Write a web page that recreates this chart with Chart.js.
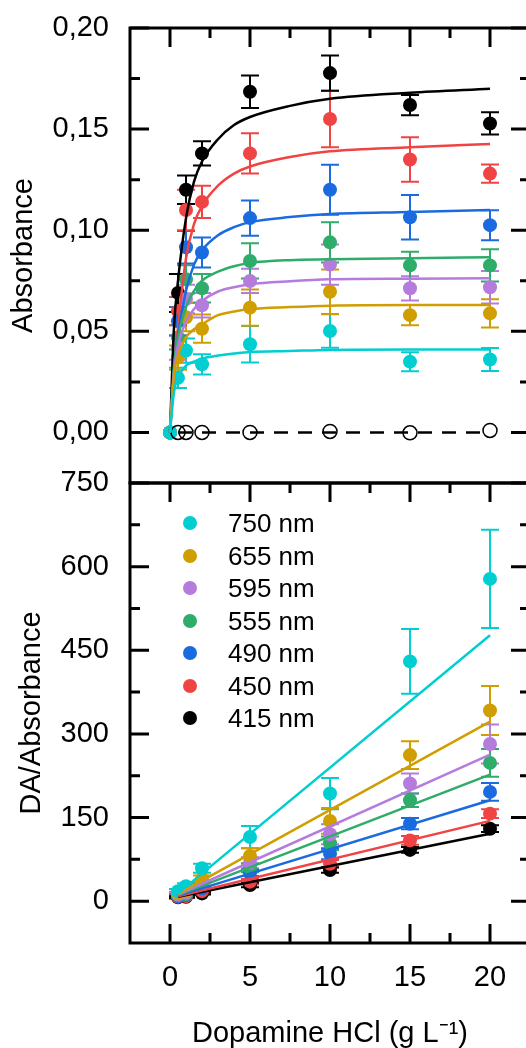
<!DOCTYPE html>
<html>
<head>
<meta charset="utf-8">
<script src="https://cdn.jsdelivr.net/npm/chart.js@4/dist/chart.umd.min.js"></script>
<style>
  html, body { margin: 0; padding: 0; background: #fff; overflow: hidden; width: 526px; height: 1048px; }
  #wrap { position: relative; width: 526px; height: 1048px; overflow: hidden; }
  canvas { position: absolute; left: 0; }
  #absChart { top: 0; }
  #ratioChart { top: 455px; }
  #legend { position: absolute; left: 0; top: 0; font: 26px "Liberation Sans", Arial, sans-serif; color: #000; }
  .row { position: absolute; left: 0; height: 26px; line-height: 26px; white-space: nowrap; }
  .dot { position: absolute; left: 183px; top: 6px; width: 14px; height: 14px; border-radius: 50%; }
  .txt { position: absolute; left: 228px; top: 0; }
</style>
</head>
<body>
<div id="wrap">
  <canvas id="absChart" width="546" height="503"></canvas>
  <canvas id="ratioChart" width="546" height="593"></canvas>
  <div id="legend"></div>
</div>
<script>
// --- donnees ---
const waveLabels = ['750 nm', '655 nm', '595 nm', '555 nm', '490 nm', '450 nm', '415 nm'];
const waveColors = ['#00CED1', '#D09E00', '#B57BDD', '#2EAC6A', '#1A6BE0', '#F04444', '#000000'];

// axes
const xMajor = [0, 5, 10, 15, 20];
const xMinor = [2.5, 7.5, 12.5, 17.5];
const absTicks = [0, 0.05, 0.10, 0.15, 0.20];
const absMinor = [0.025, 0.075, 0.125, 0.175];
const ratioTicks = [0, 150, 300, 450, 600, 750];
const ratioMinor = [75, 225, 375, 525, 675];

// panneau du haut : absorbance
const absX = [0, 0.5, 1, 2, 5, 10, 15, 20];
const abs750 = [0, 0.027, 0.0405, 0.0337, 0.0436, 0.0502, 0.0350, 0.0361];
const abs655 = [0, 0.037, 0.057, 0.0513, 0.0617, 0.0696, 0.0580, 0.0589];
const abs595 = [0, 0.042, 0.066, 0.0629, 0.0749, 0.0830, 0.0713, 0.0718];
const abs555 = [0, 0.047, 0.0757, 0.0713, 0.0848, 0.0940, 0.0826, 0.0826];
const abs490 = [0, 0.055, 0.0916, 0.0890, 0.1060, 0.1200, 0.1064, 0.1025];
const abs450 = [0, 0.060, 0.1100, 0.1140, 0.1380, 0.1550, 0.1350, 0.1280];
const abs415 = [0, 0.069, 0.1200, 0.1380, 0.1685, 0.1777, 0.1619, 0.1528];
const abs750Err = [0, 0.005, 0.006, 0.005, 0.009, 0.0083, 0.0047, 0.0057];
const abs655Err = [0, 0.006, 0.007, 0.007, 0.009, 0.011, 0.005, 0.007];
const abs595Err = [0, 0.006, 0.007, 0.006, 0.006, 0.010, 0.006, 0.008];
const abs555Err = [0, 0.006, 0.007, 0.007, 0.0087, 0.010, 0.0067, 0.008];
const abs490Err = [0, 0.007, 0.008, 0.0074, 0.0087, 0.0124, 0.011, 0.0074];
const abs450Err = [0, 0.007, 0.010, 0.008, 0.010, 0.014, 0.011, 0.0045];
const abs415Err = [0, 0.0094, 0.007, 0.006, 0.008, 0.0087, 0.005, 0.0055];

// courbes d'ajustement
const fitX = [0, 0.25, 0.5, 1, 1.5, 2, 3, 4, 5, 7.5, 10, 15, 20];
const fit750 = [0, 0.020, 0.027, 0.033, 0.035, 0.0365, 0.038, 0.039, 0.0398, 0.0403, 0.0408, 0.041, 0.041];
const fit655 = [0, 0.028, 0.038, 0.047, 0.051, 0.0535, 0.058, 0.0598, 0.061, 0.062, 0.0627, 0.063, 0.063];
const fit595 = [0, 0.030, 0.043, 0.055, 0.061, 0.065, 0.0697, 0.0718, 0.0733, 0.0748, 0.0757, 0.076, 0.0762];
const fit555 = [0, 0.033, 0.047, 0.062, 0.070, 0.075, 0.0795, 0.0822, 0.0838, 0.0852, 0.0856, 0.0862, 0.0866];
const fit490 = [0, 0.030, 0.048, 0.070, 0.083, 0.090, 0.0975, 0.1015, 0.104, 0.1065, 0.108, 0.109, 0.110];
const fit450 = [0, 0.030, 0.052, 0.086, 0.103, 0.112, 0.122, 0.128, 0.1315, 0.1362, 0.139, 0.141, 0.1426];
const fit415 = [0, 0.052, 0.075, 0.106, 0.124, 0.134, 0.145, 0.152, 0.156, 0.1615, 0.165, 0.168, 0.170];

// temoin (cercles vides + tirets)
const ctrlX = [0.5, 1, 2, 5, 10, 15, 20];
const ctrlY = [0, 0, 0, 0, 0.0005, -0.0002, 0.001];
const ctrlLineX = [0.5, 20];
const ctrlLineY = [0, 0];

// panneau du bas : DA/Absorbance
const ratioX = [0.5, 1, 2, 5, 10, 15, 20];
const ratio750 = [18, 27, 59, 115, 193, 430, 578];
const ratio655 = [14, 18, 40, 81, 144, 262, 342];
const ratio595 = [12, 15, 32, 69, 120, 211, 282];
const ratio555 = [11, 13, 28, 60, 104, 181, 248];
const ratio490 = [9, 11, 23, 51, 85, 139, 196];
const ratio450 = [8, 9, 18, 35, 67, 109, 157];
const ratio415 = [7, 8, 14, 29, 56, 92, 130];
const ratio750Err = [4, 5, 8, 20, 28, 58, 88];
const ratio655Err = [3, 4, 6, 14, 23, 25, 44];
const ratio595Err = [3, 3, 5, 10, 18, 18, 35];
const ratio555Err = [2, 3, 4, 8, 12, 12, 25];
const ratio490Err = [2, 2, 4, 6, 10, 10, 16];
const ratio450Err = [2, 2, 3, 5, 7, 8, 8];
const ratio415Err = [2, 2, 2, 4, 5, 5, 6];

// droites de regression
const lineX = [0.5, 20];
const line750 = [14, 477];
const line655 = [13, 322];
const line595 = [12, 263];
const line555 = [11, 227];
const line490 = [10, 181];
const line450 = [9, 144];
const line415 = [8, 121];

const series = [
  { abs: abs750, absErr: abs750Err, fit: fit750, ratio: ratio750, ratioErr: ratio750Err, line: line750 },
  { abs: abs655, absErr: abs655Err, fit: fit655, ratio: ratio655, ratioErr: ratio655Err, line: line655 },
  { abs: abs595, absErr: abs595Err, fit: fit595, ratio: ratio595, ratioErr: ratio595Err, line: line595 },
  { abs: abs555, absErr: abs555Err, fit: fit555, ratio: ratio555, ratioErr: ratio555Err, line: line555 },
  { abs: abs490, absErr: abs490Err, fit: fit490, ratio: ratio490, ratioErr: ratio490Err, line: line490 },
  { abs: abs450, absErr: abs450Err, fit: fit450, ratio: ratio450, ratioErr: ratio450Err, line: line450 },
  { abs: abs415, absErr: abs415Err, fit: fit415, ratio: ratio415, ratioErr: ratio415Err, line: line415 }
];
series.forEach((s, i) => { s.label = waveLabels[i]; s.color = waveColors[i]; });

const FONT = '"Liberation Sans", Arial, sans-serif';
Chart.defaults.font.family = FONT;
Chart.defaults.color = '#000';

const pts = (xs, ys) => xs.map((x, i) => ({ x: x, y: ys[i] }));

// cadre + graduations vers l'interieur
const framePlugin = {
  id: 'frame',
  afterDraw(chart, args, opts) {
    const { ctx, chartArea: a, scales: { x, y } } = chart;
    ctx.save();
    ctx.strokeStyle = '#000';
    ctx.lineWidth = 3;
    ctx.strokeRect(a.left, a.top, a.right - a.left, a.bottom - a.top);
    ctx.beginPath();
    const vTick = (v, len) => {
      const px = x.getPixelForValue(v);
      ctx.moveTo(px, a.top); ctx.lineTo(px, a.top + len);
      if (opts.bottomTicks) { ctx.moveTo(px, a.bottom); ctx.lineTo(px, a.bottom - len); }
    };
    const hTick = (v, len) => {
      const py = y.getPixelForValue(v);
      ctx.moveTo(a.left, py); ctx.lineTo(a.left + len, py);
      ctx.moveTo(a.right, py); ctx.lineTo(a.right - len, py);
    };
    opts.xMajor.forEach(v => vTick(v, 19));
    opts.xMinor.forEach(v => vTick(v, 10));
    opts.yMajor.forEach(v => hTick(v, 19));
    opts.yMinor.forEach(v => hTick(v, 10));
    ctx.stroke();
    ctx.restore();
  }
};

// barres d'erreur
const errorBarPlugin = {
  id: 'errbars',
  beforeDatasetsDraw(chart) {
    const { ctx, chartArea: a, scales: { x, y } } = chart;
    ctx.save();
    ctx.beginPath();
    ctx.rect(a.left, a.top, a.right - a.left, a.bottom - a.top);
    ctx.clip();
    ctx.lineWidth = 2;
    chart.data.datasets.forEach(ds => {
      if (!ds.errors) return;
      ctx.strokeStyle = ds.borderColor;
      ds.data.forEach((p, i) => {
        const e = ds.errors[i];
        if (p.y == null || !e) return;
        const px = x.getPixelForValue(p.x);
        const y1 = y.getPixelForValue(p.y + e);
        const y2 = y.getPixelForValue(p.y - e);
        ctx.beginPath();
        ctx.moveTo(px, y1); ctx.lineTo(px, y2);
        ctx.moveTo(px - 9, y1); ctx.lineTo(px + 9, y1);
        ctx.moveTo(px - 9, y2); ctx.lineTo(px + 9, y2);
        ctx.stroke();
      });
    });
    ctx.restore();
  }
};

// l'ecart etiquette/cadre passe par tickLength (les graduations elles-memes sont dessinees par framePlugin)
function yScale(min, max, ticks, fmt, title, titlePad) {
  return {
    type: 'linear', min: min, max: max,
    grid: { display: false, drawTicks: true, tickLength: 21 }, border: { display: false },
    afterBuildTicks: s => { s.ticks = ticks.map(v => ({ value: v })); },
    afterFit: s => { s.width = 130; },
    ticks: { autoSkip: false, padding: 0, font: { size: 29 }, callback: fmt },
    title: { display: true, text: title, font: { size: 29 }, padding: { top: titlePad, bottom: 0 } }
  };
}

// --- panneau du haut ---
const topSets = [];
series.forEach(s => topSets.push({
  data: pts(fitX, s.fit), showLine: true, borderColor: s.color, borderWidth: 2.5,
  pointRadius: 0, cubicInterpolationMode: 'monotone', fill: false
}));
topSets.push({
  data: pts(ctrlLineX, ctrlLineY), showLine: true, borderColor: '#000', borderWidth: 2.5,
  borderDash: [14, 10], pointRadius: 0
});
topSets.push({
  data: pts(ctrlX, ctrlY), pointRadius: 7, backgroundColor: 'rgba(0,0,0,0)',
  borderColor: '#000', borderWidth: 1.5
});
series.forEach(s => topSets.push({
  data: pts(absX, s.abs), errors: s.absErr, pointRadius: 7,
  backgroundColor: s.color, borderColor: s.color, borderWidth: 0
}));

new Chart(document.getElementById('absChart'), {
  type: 'scatter',
  data: { datasets: topSets },
  options: {
    responsive: false, animation: false,
    layout: { padding: { top: 28, right: 16, bottom: 20, left: 0 } },
    plugins: {
      legend: { display: false }, tooltip: { enabled: false },
      frame: { xMajor: xMajor, xMinor: xMinor, yMajor: absTicks, yMinor: absMinor, bottomTicks: false }
    },
    scales: {
      x: { type: 'linear', min: -2.5, max: 22.5, display: false },
      y: yScale(-0.025, 0.20, absTicks, v => v.toFixed(2).replace('.', ','), 'Absorbance', 7)
    }
  },
  plugins: [errorBarPlugin, framePlugin]
});

// --- panneau du bas ---
const botSets = [];
series.forEach(s => botSets.push({
  data: pts(lineX, s.line), showLine: true, borderColor: s.color, borderWidth: 2.5, pointRadius: 0
}));
series.forEach(s => botSets.push({
  data: pts(ratioX, s.ratio), errors: s.ratioErr, pointRadius: 7,
  backgroundColor: s.color, borderColor: s.color, borderWidth: 0
}));

new Chart(document.getElementById('ratioChart'), {
  type: 'scatter',
  data: { datasets: botSets },
  options: {
    responsive: false, animation: false,
    layout: { padding: { top: 28, right: 16, bottom: 0, left: 0 } },
    plugins: {
      legend: { display: false }, tooltip: { enabled: false },
      frame: { xMajor: xMajor, xMinor: xMinor, yMajor: ratioTicks, yMinor: ratioMinor, bottomTicks: true }
    },
    scales: {
      x: {
        type: 'linear', min: -2.5, max: 22.5,
        grid: { display: false, drawTicks: true, tickLength: 18 }, border: { display: false },
        afterBuildTicks: s => { s.ticks = xMajor.map(v => ({ value: v })); },
        afterFit: s => { s.height = 105; },
        ticks: { autoSkip: false, maxRotation: 0, padding: 0, font: { size: 29 } },
        title: { display: true, text: 'Dopamine HCl (g L\u207B\u00B9)', font: { size: 29, lineHeight: 1 }, padding: 0 }
      },
      y: yScale(-75, 750, ratioTicks, v => String(v), 'DA/Absorbance', 15)
    }
  },
  plugins: [errorBarPlugin, framePlugin]
});

// legende (dans le cadre du bas)
const legend = document.getElementById('legend');
waveLabels.forEach((lab, i) => {
  const row = document.createElement('div');
  row.className = 'row';
  row.style.top = (510 + i * 32.5) + 'px';
  row.innerHTML = '<span class="dot" style="background:' + waveColors[i] + '"></span><span class="txt">' + lab + '</span>';
  legend.appendChild(row);
});
</script>
</body>
</html>
